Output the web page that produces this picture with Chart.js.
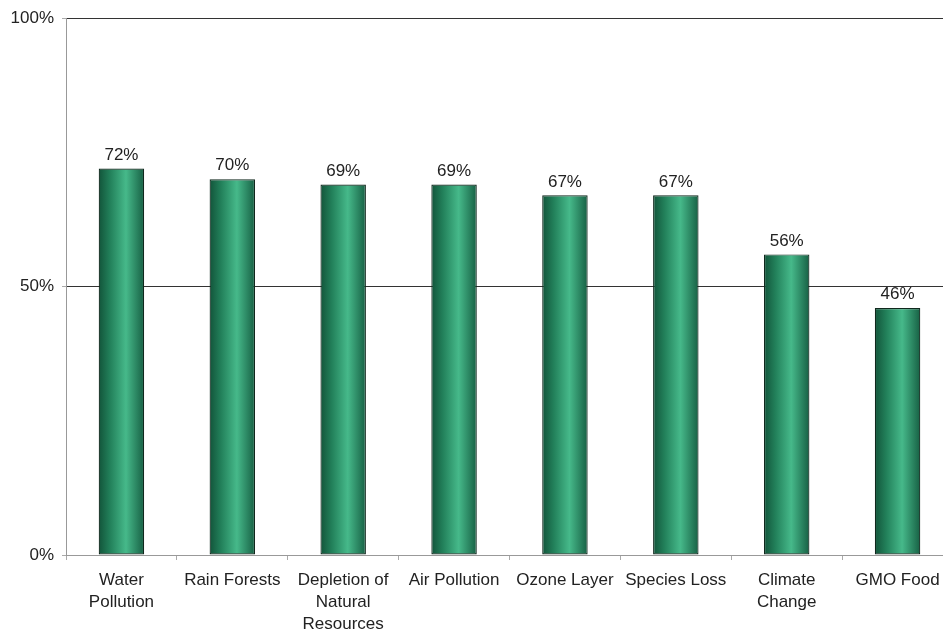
<!DOCTYPE html>
<html>
<head>
<meta charset="utf-8">
<script src="https://cdn.jsdelivr.net/npm/chart.js@4/dist/chart.umd.min.js"></script>
<style>
  html, body { margin: 0; padding: 0; background: #fff; overflow: hidden; }
  /* plot runs slightly past the right edge of the window */
  #wrap { width: 953px; height: 631px; }
</style>
</head>
<body>
<div id="wrap"><canvas id="issues"></canvas></div>
<script>
const categories = [
  ["Water", "Pollution"],
  ["Rain Forests"],
  ["Depletion of", "Natural", "Resources"],
  ["Air Pollution"],
  ["Ozone Layer"],
  ["Species Loss"],
  ["Climate", "Change"],
  ["GMO Food"]
];
const concernPct = [72, 70, 69, 69, 67, 67, 56, 46];
const yTicks = [0, 50, 100];

const BAR_FRACTION = 0.41;
const FONT = '"Liberation Sans", Arial, sans-serif';

// cylinder-style horizontal shading for each bar
function barShade(c) {
  const chart = c.chart;
  const x = chart.scales.x;
  const fallback = '#2e8f65';
  if (!x || !(x.width > 0)) return fallback;
  const cx = x.getPixelForValue(c.dataIndex);
  const w = x.width / categories.length * BAR_FRACTION;
  if (!isFinite(cx) || !isFinite(w)) return fallback;
  const g = chart.ctx.createLinearGradient(cx - w / 2, 0, cx + w / 2, 0);
  g.addColorStop(0, '#12543a');
  g.addColorStop(0.25, '#22805a');
  g.addColorStop(0.6, '#46b98a');
  g.addColorStop(1, '#176044');
  return g;
}

const valueLabels = {
  id: 'valueLabels',
  afterDatasetsDraw(chart) {
    const ctx = chart.ctx;
    const meta = chart.getDatasetMeta(0);
    ctx.save();
    ctx.font = '17px ' + FONT;
    ctx.fillStyle = '#222';
    ctx.textAlign = 'center';
    ctx.textBaseline = 'bottom';
    meta.data.forEach((bar, i) => {
      ctx.fillText(concernPct[i] + '%', bar.x, bar.y - 5);
    });
    ctx.restore();
  }
};

new Chart(document.getElementById('issues'), {
  type: 'bar',
  data: {
    labels: categories,
    datasets: [{
      data: concernPct,
      backgroundColor: barShade,
      borderColor: '#10281d',
      borderWidth: 1.2,
      borderSkipped: false,
      categoryPercentage: 1,
      barPercentage: BAR_FRACTION
    }]
  },
  options: {
    responsive: true,
    maintainAspectRatio: false,
    animation: false,
    layout: { padding: { top: 13, right: 0, left: 0, bottom: 0 } },
    plugins: {
      legend: { display: false },
      tooltip: { enabled: false }
    },
    scales: {
      x: {
        grid: {
          offset: true,
          drawOnChartArea: false,
          tickLength: 5,
          color: '#aaa'
        },
        border: { color: '#999' },
        ticks: {
          color: '#222',
          font: { family: FONT, size: 17, lineHeight: 1.3 },
          padding: 9,
          maxRotation: 0,
          autoSkip: false
        },
        afterFit(s) { s.height = 76; }
      },
      y: {
        min: 0,
        max: 100,
        afterBuildTicks(s) { s.ticks = yTicks.map(v => ({ value: v })); },
        grid: {
          color: (c) => c.tick && c.tick.value === 0 ? '#aaa' : '#333',
          tickLength: 4,
          tickColor: '#aaa'
        },
        border: { color: '#999' },
        ticks: {
          color: '#222',
          font: { family: FONT, size: 17 },
          padding: 8,
          callback: v => v + '%'
        },
        afterFit(s) { s.width = 66; }
      }
    }
  },
  plugins: [valueLabels]
});
</script>
</body>
</html>
